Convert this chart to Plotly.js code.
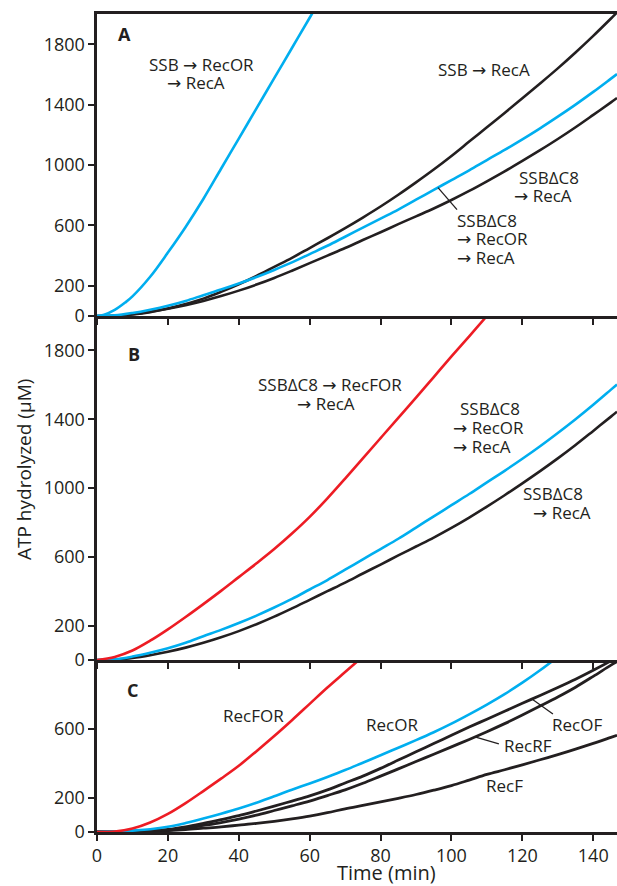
<!DOCTYPE html>
<html><head><meta charset="utf-8">
<script src="https://cdn.plot.ly/plotly-3.0.1.min.js"></script>
<style>html,body{margin:0;padding:0;background:#fff}#chart{width:617px;height:886px}</style>
</head><body><div id="chart"></div>
<script>
// ---------- DATA (minutes, ATP hydrolyzed µM) ----------
// Panel A
const timeSSB_RecOR_RecA = [0,2,5,8,10,15,20,25,30,35,40,45,50,55,60,62];
const valSSB_RecOR_RecA  = [0,8,40,90,130,260,420,590,775,975,1175,1375,1575,1775,1975,2055];

const timeSSB_RecA = [0,5,10,15,20,25,30,35,40,45,50,55,60,65,70,75,80,85,90,95,100,105,110,115,120,125,130,135,140,145,146.7];
const valSSB_RecA  = [0,2,10,25,50,80,115,160,210,265,325,385,450,515,582,652,725,803,885,970,1060,1155,1250,1345,1442,1540,1640,1745,1855,1970,2010];

// Shared by panels A and B
const timeDC8 = [0,5,10,15,20,25,30,35,40,45,50,55,60,65,70,75,80,85,90,95,100,105,110,115,120,125,130,135,140,145,146.7];
const valDC8_RecOR_RecA = [0,4,20,42,68,100,138,175,215,258,305,355,410,465,525,585,645,705,770,835,900,965,1033,1100,1170,1243,1320,1400,1484,1572,1602];
const valDC8_RecA       = [0,2,12,28,48,72,100,132,168,208,252,300,350,400,450,503,555,608,660,712,768,828,892,958,1027,1098,1172,1250,1332,1415,1444];

// Panel B
const timeDC8_RecFOR_RecA = [0,5,10,15,20,25,30,35,40,45,50,55,60,65,70,75,80,85,90,95,100,105,110,112];
const valDC8_RecFOR_RecA  = [0,18,55,112,178,250,325,402,482,562,645,735,832,940,1055,1172,1290,1408,1525,1645,1765,1882,2000,2048];

// Panel C
const timeRecFOR = [0,5,10,15,20,25,30,35,40,45,50,55,60,65,70,75];
const valRecFOR  = [0,3,20,55,105,168,238,310,385,470,558,650,745,840,930,1020];

const timeRecOR = [0,5,10,15,20,25,30,35,40,45,50,55,60,65,70,75,80,85,90,95,100,105,110,115,120,125,130];
const valRecOR  = [0,2,8,16,30,52,78,106,136,170,208,246,282,320,360,403,446,490,534,580,630,684,741,802,868,940,1018];

const timeC = [0,5,10,15,20,25,30,35,40,45,50,55,60,65,70,75,80,85,90,95,100,105,110,115,120,125,130,135,140,145,146.7];
const valRecOF = [0,1,3,8,15,30,50,72,95,122,150,180,210,245,285,325,370,418,466,514,562,610,656,702,748,794,840,888,940,995,1015];
const valRecRF = [0,1,2,5,10,22,38,55,75,98,125,152,180,212,245,283,325,367,410,452,495,538,583,630,680,732,785,842,905,970,990];
const valRecF  = [0,0,2,4,8,14,22,30,40,50,62,76,92,112,135,155,175,196,218,243,270,302,335,362,390,420,450,482,515,550,562];

const xTicks = [0,20,40,60,80,100,120,140];
const yTicksAB = [0,200,600,1000,1400,1800];
const yTicksC = [0,200,600];

// ---------- STYLE ----------
const CYAN = '#00AEEF', RED = '#ED1C24', BLACK = '#231F20';
const FONT = 'Open Sans, Noto Sans, DejaVu Sans, sans-serif';
const W = 617, H = 886, ML = 97, MR = 0, MT = 14, MB = 54;
const PW = W - ML - MR, PH = H - MT - MB;
const px = x => (x - ML) / PW;
const py = y => (H - MB - y) / PH;
const dC = py(660), dB = py(316);

function interp(ts, vs, t) {
  for (let i = 1; i < ts.length; i++) if (t <= ts[i]) {
    const f = (t - ts[i-1]) / (ts[i] - ts[i-1]); return vs[i-1] + f * (vs[i] - vs[i-1]);
  }
  return vs[vs.length - 1];
}

function tr(x, y, color, xa, ya, w) {
  return {x, y, type: 'scatter', mode: 'lines', xaxis: xa, yaxis: ya, hoverinfo: 'skip',
          line: {color, width: w || 2.6, shape: 'spline', smoothing: 1}, showlegend: false};
}

const data = [
  // A
  tr(timeDC8, valDC8_RecA, BLACK, 'x3', 'y'),
  tr(timeSSB_RecA, valSSB_RecA, BLACK, 'x3', 'y'),
  tr(timeDC8, valDC8_RecOR_RecA, CYAN, 'x3', 'y'),
  tr(timeSSB_RecOR_RecA, valSSB_RecOR_RecA, CYAN, 'x3', 'y'),
  // B
  tr(timeDC8, valDC8_RecA, BLACK, 'x2', 'y2'),
  tr(timeDC8, valDC8_RecOR_RecA, CYAN, 'x2', 'y2'),
  tr(timeDC8_RecFOR_RecA, valDC8_RecFOR_RecA, RED, 'x2', 'y2'),
  // C
  tr(timeC, valRecF, BLACK, 'x', 'y3', 2.8),
  tr(timeC, valRecRF, BLACK, 'x', 'y3', 2.8),
  tr(timeC, valRecOF, BLACK, 'x', 'y3', 2.8),
  tr(timeRecOR, valRecOR, CYAN, 'x', 'y3'),
  tr(timeRecFOR, valRecFOR, RED, 'x', 'y3')
];

const xBase = {range: [0, 146.7], tickvals: xTicks, ticks: 'outside', ticklen: 6, tickwidth: 2,
  tickcolor: BLACK, showline: true, linewidth: 2.6, linecolor: BLACK, showgrid: false,
  zeroline: false, fixedrange: true, tickfont: {family: FONT, size: 18, color: BLACK}};
const yBase = {ticks: 'outside', ticklen: 6, tickwidth: 2, tickcolor: BLACK, showline: true,
  linewidth: 2.6, linecolor: BLACK, showgrid: false, zeroline: false, fixedrange: true,
  tickfont: {family: FONT, size: 18, color: BLACK}};

const ann = [];
function lab(text, x, y, anchor, size, bold) {
  ann.push({xref: 'paper', yref: 'paper', x: px(x), y: py(y), text: bold ? '<b>' + text + '</b>' : text,
    showarrow: false, xanchor: anchor || 'center', yanchor: 'middle', borderpad: 0,
    font: {family: FONT, size: size || 17, color: BLACK}});
}
const shapes = [];
function leader(xa, ya, t, ts, vs, dx, dy) {
  shapes.push({type: 'line', xref: xa, yref: ya, xsizemode: 'pixel', ysizemode: 'pixel',
    xanchor: t, yanchor: interp(ts, vs, t), x0: 0, y0: 0, x1: dx, y1: -dy,
    line: {color: BLACK, width: 1.3}});
}

// panel letters
lab('A', 124, 34, 'center', 18, true);
lab('B', 134, 354, 'center', 18, true);
lab('C', 132, 690, 'center', 18, true);
// A
lab('SSB \u2192 RecOR', 201, 64);
lab('\u2192 RecA', 196, 82);
lab('SSB \u2192 RecA', 484, 70);
lab('SSB\u0394C8', 549, 177);
lab('\u2192 RecA', 543, 195);
lab('SSB\u0394C8', 456, 220, 'left');
lab('\u2192 RecOR', 456, 239, 'left');
lab('\u2192 RecA', 456, 257, 'left');
leader('x3', 'y', 96.2, timeDC8, valDC8_RecOR_RecA, 19, 22);
// B
lab('SSB\u0394C8 \u2192 RecFOR', 330, 384);
lab('\u2192 RecA', 326, 403);
lab('SSB\u0394C8', 490, 408);
lab('\u2192 RecOR', 452, 427, 'left');
lab('\u2192 RecA', 452, 446, 'left');
lab('SSB\u0394C8', 553, 493);
lab('\u2192 RecA', 562, 512);
// C
lab('RecFOR', 253, 715);
lab('RecOR', 392, 724);
lab('RecOF', 577, 724);
lab('RecRF', 528, 745);
lab('RecF', 504, 785);
leader('x', 'y3', 122.7, timeC, valRecOF, 21, 15);
leader('x', 'y3', 106.6, timeC, valRecRF, 24, 7);
// axis titles
lab('Time (min)', 386, 872, 'center', 20);
ann.push({xref: 'paper', yref: 'paper', x: px(24), y: py(470), text: 'ATP hydrolyzed (\u03bcM)',
  textangle: -90, showarrow: false, xanchor: 'center', yanchor: 'middle', borderpad: 0,
  font: {family: FONT, size: 19, color: BLACK}});

const layout = {
  width: W, height: H, margin: {l: ML, r: MR, t: MT, b: MB, pad: 0},
  paper_bgcolor: '#fff', plot_bgcolor: '#fff', showlegend: false,
  xaxis:  Object.assign({}, xBase, {anchor: 'y3', domain: [0, 1]}),
  xaxis2: Object.assign({}, xBase, {anchor: 'y2', domain: [0, 1], matches: 'x', showticklabels: false}),
  xaxis3: Object.assign({}, xBase, {anchor: 'y', domain: [0, 1], matches: 'x', showticklabels: false, mirror: true}),
  yaxis:  Object.assign({}, yBase, {anchor: 'x3', domain: [dB, 1], range: [0, 2000], tickvals: yTicksAB}),
  yaxis2: Object.assign({}, yBase, {anchor: 'x2', domain: [dC, dB], range: [0, 2000], tickvals: yTicksAB}),
  yaxis3: Object.assign({}, yBase, {anchor: 'x', domain: [0, dC], range: [0, 1000], tickvals: yTicksC}),
  annotations: ann, shapes: shapes
};

Plotly.newPlot('chart', data, layout, {displayModeBar: false, staticPlot: true});
</script>
</body></html>
